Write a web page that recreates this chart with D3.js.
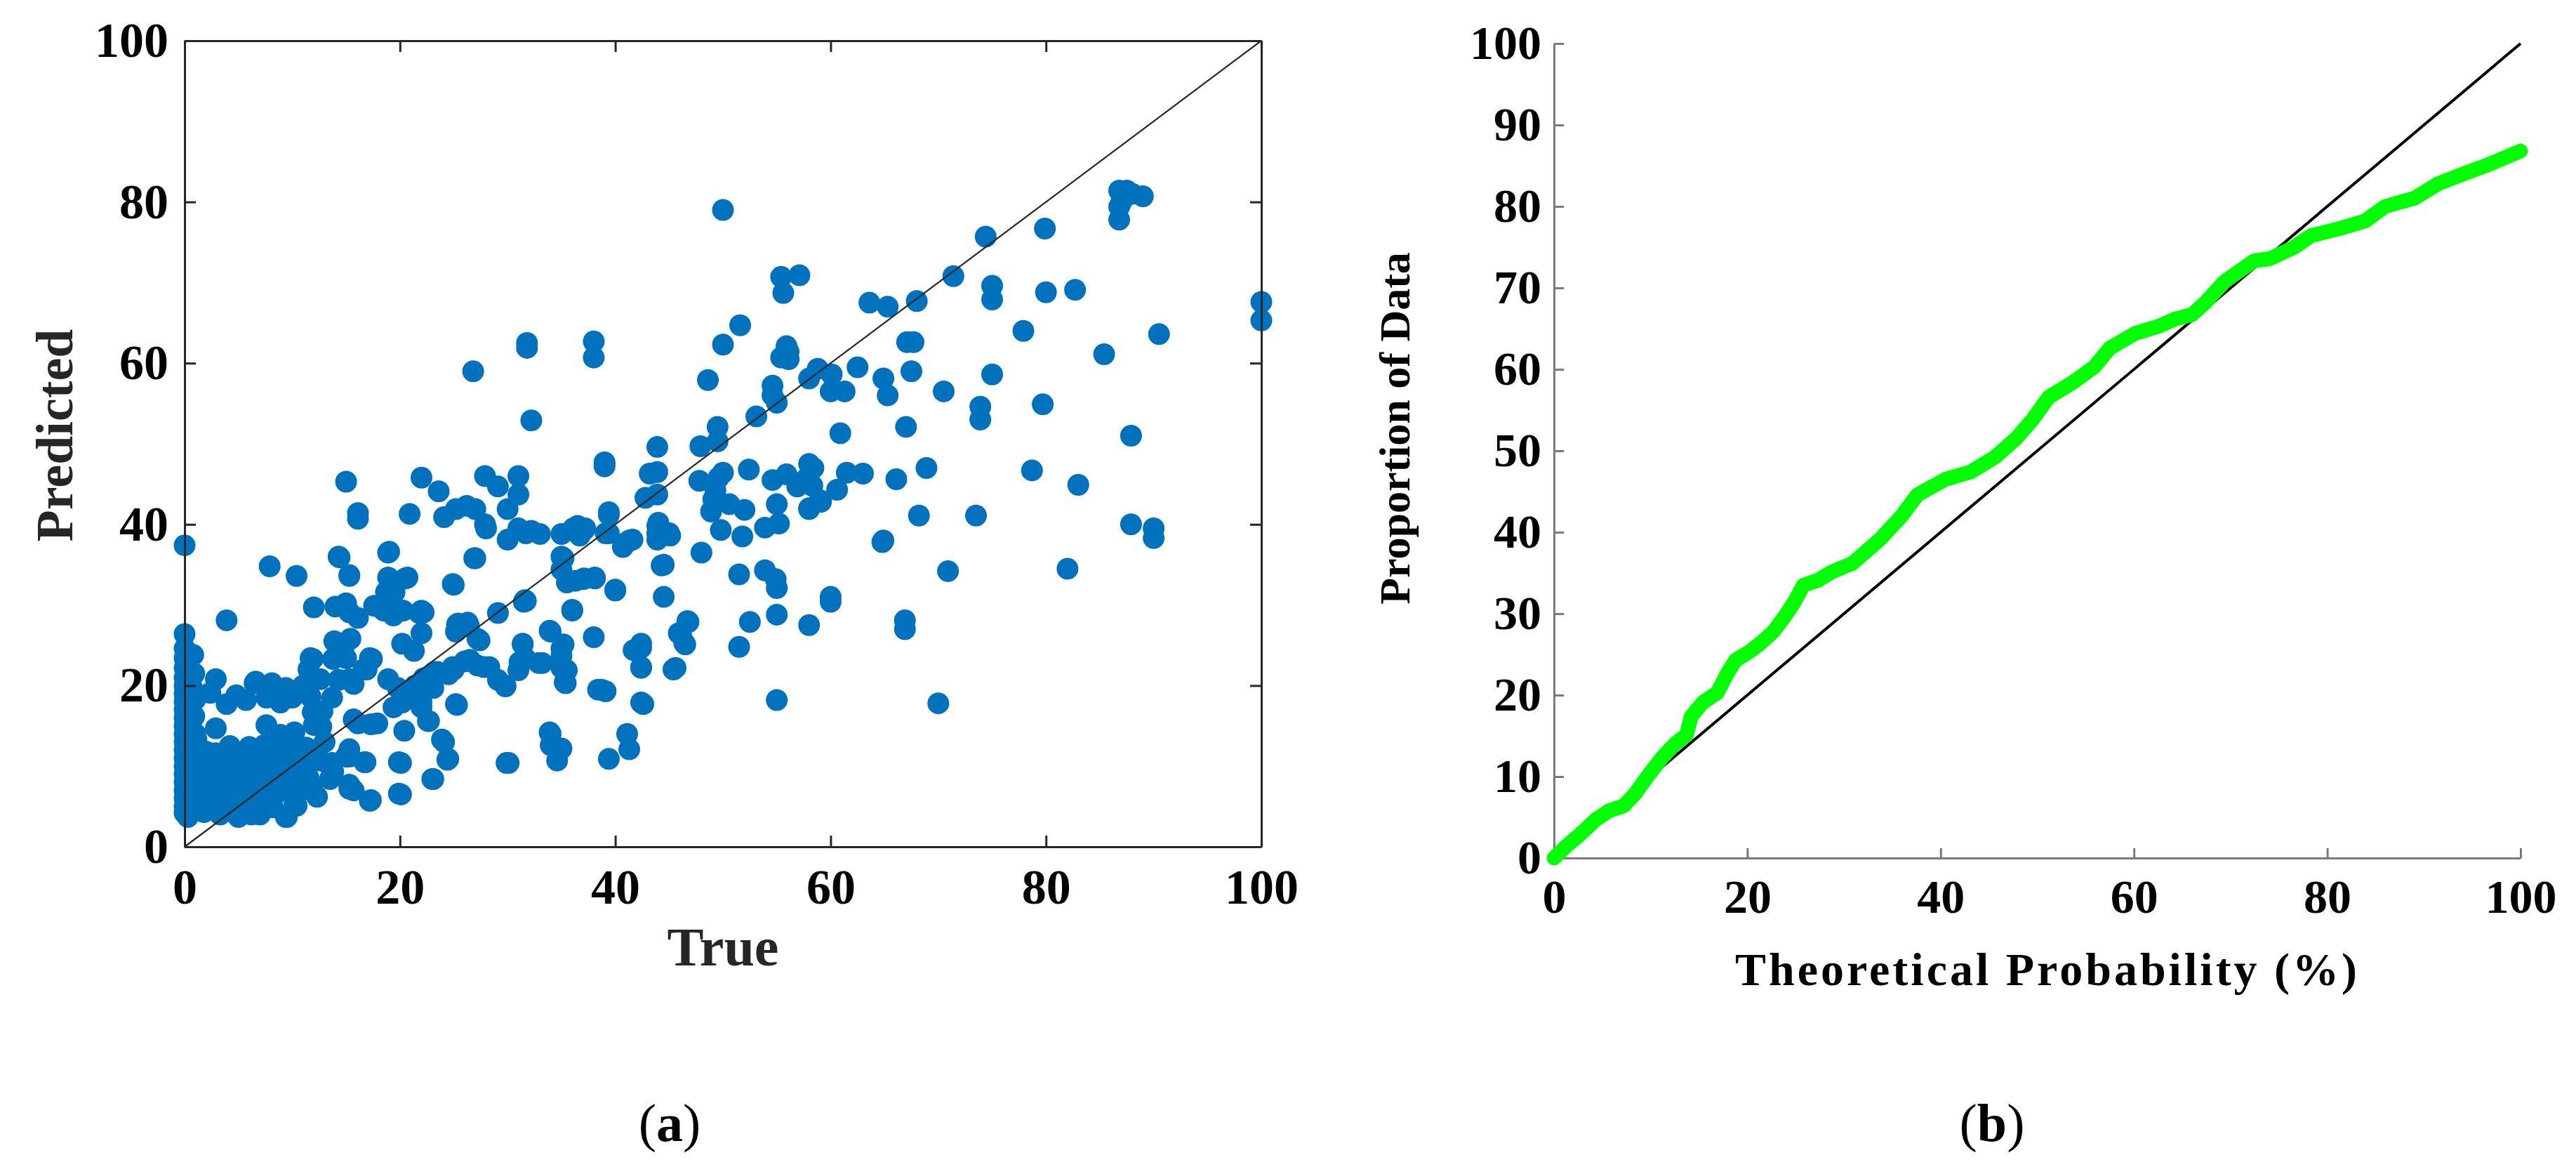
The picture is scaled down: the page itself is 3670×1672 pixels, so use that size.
<!DOCTYPE html>
<html>
<head>
<meta charset="utf-8">
<script src="https://cdn.jsdelivr.net/npm/d3@7"></script>
<style>
  body { margin: 0; background: #fff; }
  text { font-family: "Liberation Serif", "Times New Roman", serif; }
</style>
</head>
<body>
<svg id="fig" width="3670" height="1672"></svg>
<script>
// ---- data ----

// (a) scatter: [true, predicted]
var scatterPts = [
  // column at true = 0
  [0,37.4],[0,26.4],[0,24.6],[0,23.4],[0,22.2],[0,21],[0,20],[0,19],[0,18],[0,17],[0,16],[0,15],[0,14],[0,13],[0,12],[0,11],[0,10],[0,9],[0,8],[0,7],[0,6],[0,5],[0,4.2],[0.3,3.7],[0.7,19.7],[0.5,17.5],[0.6,15],[0.8,12.2],[0.5,10.5],[0.9,8],[0.4,6.5],[0.8,5],
  [0.8,23.8],[0.9,21.5],[1,18.3],[0.9,16.2],[1,14],[1.2,9.5],[1.4,7.2],[1.5,4.6],
  // dense corner
  [3.9,28.1],[2.9,20.8],[2.4,19.1],[3.9,17.7],[2.9,14.7],[4.8,18.8],[5.7,18.2],[6.5,20.3],[8.1,20.3],[7.6,18.5],[8.9,17.9],[9.4,19.7],[10,18.5],[7.6,15.1],[10.2,14.2],[8.9,13.9],[9.4,12.7],[8.7,11.6],[7.6,10.7],[6.5,10.1],[5,10.4],[3.9,10.1],[2.9,11.6],[2,11.8],[5.5,11.6],[6.8,11.6],[1.1,13.3],[1.1,11],[1.3,9.2],[2.9,8.4],[4.6,7.8],[6.1,8.1],[7.8,8.4],[1.3,6.6],[2.9,6.4],[4.6,5.5],[6.1,5.7],[7.6,6.4],[8.9,6.9],[10.7,6.9],[1.8,4.3],[3.3,4],[5,3.7],[7,4],[9.4,3.7],[10.2,5.3],[11.5,8.6],[13.5,8.4],[12.6,10.7],[13.7,10.4],[15.3,11.2],[16.8,10.5],[15.3,7.2],[17.2,5.7],[19.9,6.6],[19.9,10.5],[4,9],[5.5,6.5],[3.5,5.5],[2,7.5],[6.5,7],[8,9.5],[9.8,9.3],[2.2,9.8],[4.2,12.5],[1.6,10.3],
  [2.5,5.2],[3.2,7.2],[4.1,6.4],[5.2,8.9],[5.6,4.7],[6.6,9],[7.1,5.3],[8.2,4.9],[8.4,7.9],[9.1,10.1],[10.1,9.7],[10.6,11.3],[11.2,10.2],[3.4,11.2],[6,12.4],[7.4,12.6],[11.3,12.3],[12.2,12],[4.4,4.4],[6.2,4],[9.9,8.2],[11.8,7.5],[3.1,9.4],[12.3,6.2],
  // low-middle
  [7.9,34.8],[10.4,33.6],[14.3,36],[18.9,36.5],[26.9,35.8],[15.3,33.6],[18.9,33.4],[20.7,33.4],[24.9,32.6],[12,29.7],[14.9,30],[15.3,29.1],[16.1,28.4],[17.6,29.9],[18.7,31.6],[18.5,29.3],[19.4,28.7],[20.2,29.3],[22,29.3],[22,26.5],[20.2,25.2],[21.3,24.3],[25.4,27.7],[26.3,27.8],[27.2,25.8],[29.1,29],[31.6,30.6],[31.4,25.2],[31.1,22.9],[29.8,19.9],[29.1,20.7],[27.8,22.3],[26.5,23.2],[25,22],[23.5,21.7],[23.1,19.7],[22,17.3],[22.6,15.6],[25.2,17.7],[23.9,13.3],[24.4,10.8],[23.1,8.4],[29.9,10.4],[18.9,20.8],[19.8,19.7],[21.3,19.1],[20.2,17.9],[19.4,17.3],[17.2,23.4],[16.6,22],[15.3,20.8],[13.9,25.5],[15.4,25.8],[11.7,23.4],[11.5,22],[12.6,20.8],[13.7,18.5],[12.8,16.8],[12,15.1],[11.9,23.3],[11.7,18.6],[11.9,16.7],[12.7,14.9],[13,13],[13.4,10.2],[13.8,9.3],[14.2,25.1],[13.8,23.3],[17.3,5.8],[16.7,10.5],[15.7,15.8],[16.1,15.3],[15.3,12.1],[15,11.2],[15.3,7.7],[15.7,7],[17.9,15.3],[17.3,15.2],[20.1,6.5],[20.1,10.4],[20.4,14.4],[24.1,13],[24.5,10.9],[23,8.4],[22.7,15.6],[22,18],[25.3,17.6],[14.3,20.7],[15.7,20.2],[16.9,22],[17.4,23.3],[14.8,24.9],[15,23.4],[14,29.8],[15,30.2],[16.1,41.4],[16.1,40.7],[15,45.3],[9.6,11.6],[10,7.4],[10.4,5.1],[9.5,3.7],[6.6,20.5],[11,20],
  // middle
  [26.8,59],[31.8,62.5],[31.8,61.9],[38,62.7],[38,60.7],[32.2,52.9],[39,47.7],[39,47.2],[43.9,49.6],[43.2,46.3],[43.9,46.5],[42.8,43.3],[43.9,43.7],[43.9,38.9],[45.1,38.6],[43.9,38.1],[41,37.7],[41.6,38.1],[39.4,41.2],[39.4,38.9],[44.3,34.9],[44.5,31],[46.8,27.9],[46.1,26.5],[46.5,25.1],[45.4,22],[42.4,24.7],[42.4,22.3],[42.6,17.7],[41.1,14],[41.3,12.1],[39.4,10.9],[38.4,19.5],[39.1,19.3],[38,26],[40,31.8],[38.1,33.3],[37.1,33.3],[36.3,33],[35.2,35.8],[35,34.4],[36.1,39.5],[37.1,39.3],[36.7,38.6],[35,38.8],[33,38.8],[31.7,38.9],[31,39.5],[30,38.1],[31,43.7],[31,46],[30,41.9],[27.9,40],[28,39.5],[27.9,46],[29.1,44.7],[25.2,41.9],[24.1,40.9],[26.2,42.3],[27,41.9],[20.9,41.3],[22,45.8],[23.6,44.1],[14.4,35.9],[15.3,33.7],[19,36.6],[19,33.3],[20.5,33.3],[19.5,31.6],[19.2,30.1],[18,29.8],[20.3,29.3],[21.8,29],[22.2,29.1],[25,32.5],[27,35.8],[25.3,27.6],[26.4,27.4],[25.2,26.7],[27.4,25.6],[31.5,30.4],[31.4,25.1],[36,29.3],[34,26.7],[35.2,25.1],[35,23.7],[35.5,21.9],[35.4,20.3],[32.9,22.8],[31.7,23.3],[31,21.9],[29.8,20],[28.3,22.3],[27.2,22.5],[26,23],[24.9,22.3],[24.5,21.4],[23.2,21.7],[22.2,20.9],[21.4,20],[20.8,19.1],[30.1,10.4],[34,14],[34,12.6],[34.8,12.1],[34.6,10.7],[39,47.5],[32.2,39.2],[36.5,39.8],[37.2,39.5],[39.1,38.9],[39.4,41.5],[41.3,38],[40.7,37.2],[43.9,39.8],[45,38.9],[44.5,35],[40,31.9],[35,36],[35.5,32.8],[37,33.2],[38.1,33.4],[31.7,30.5],[33.9,26.8],[35,24.6],[33.2,22.8],[35,22.2],[35.3,20.4],[44,40.2],[42.4,25.2],[41.7,24.4],[42.4,22.2],[42.4,17.9],[38.7,19.5],[33.9,14.2],[35,12.2],[36,29.4],
  // upper middle
  [50,79],[47.8,45.4],[49.6,45.8],[50,46.4],[52.4,46.8],[49.3,44.2],[49.1,43.1],[48.9,41.6],[50.6,42.5],[52,41.8],[49.8,39.3],[51.8,38.5],[53.9,39.6],[55.2,40.1],[55,42.5],[58,42],[59.1,42.8],[60.6,44.3],[61.5,46.4],[63,46.3],[58,47.5],[54.6,45.5],[55.9,46.2],[57.2,45.1],[58.3,44.8],[64.8,37.8],[48,36.5],[51.5,33.8],[53.9,34.3],[54.9,33.2],[55,32.1],[52.5,27.9],[55,28.8],[58,27.5],[51.5,24.8],[46.7,28],[45.9,26.5],[46.4,25.3],[45.6,22.2],[55,18.2],[60,31],[60,30.4],[66.9,28.1],[66.9,27],[70,17.8],[49.5,52.1],[49.5,50.3],[47.9,49.7],[53.1,53.4],[60.9,51.3],[55.4,70.7],[57.1,70.9],[55.6,68.7],[51.6,64.7],[50,62.3],[48.6,57.9],[54.6,57.2],[54.6,56],[55,55.1],[55.4,60.7],[56.1,60.5],[56.1,61.4],[55.9,62.1],[58,58.1],[58.8,59.3],[60.1,58.6],[60,56.5],[61.3,56.5],[62.5,59.5],[64.9,58.1],[65.3,56],[67.5,59],[67.1,62.6],[67.7,62.6],[68,67.7],[63.6,67.5],[65.3,67],[67,52.1],[66.1,45.6],[68.9,47],[68.2,41.1],[64.9,38],[58.4,47],[56.9,44.7],[57.7,45.6],[59,43],[58,41.9],[70.9,34.2],[70.5,56.5],[71.4,70.8],
  // right side
  [74.4,75.7],[79.9,76.7],[86.8,81.4],[87.5,81.4],[87,80],[86.8,79.4],[86.8,77.8],[89,80.7],[88,81],[75,69.6],[75,67.9],[80,68.8],[82.7,69.1],[100,67.6],[100,65.3],[90.5,63.6],[77.9,64],[85.4,61.1],[75,58.6],[73.9,54.6],[73.9,53],[79.7,54.9],[87.9,51],[78.7,46.7],[83,44.9],[73.5,41.1],[87.9,40],[90,39.5],[90,38.3],[82,34.5]
];

// (b) P-P curve
var probX = [0,1.4,2.8,4.3,5.7,7.2,8.4,9.6,11.1,12.5,13.7,14.2,15.4,16.9,17.9,18.8,20.2,21.5,22.7,23.9,24.9,25.8,27.3,28.7,30.9,33.7,35.9,37.6,40.5,43.1,45.6,47.8,49.5,51.2,53.7,55.9,57.5,60.1,62.6,64.3,66,67.3,69.4,72.4,74.1,76.6,78.3,81.3,83.9,86,89,91.5,94.1,96.6,100];
var probY = [0,1.6,3,4.7,5.8,6.4,7.9,9.9,12.2,14,15.1,17.4,19.1,20.3,22.6,24.3,25.3,26.5,27.8,29.7,31.5,33.5,34.1,35.1,36.2,39.1,41.9,44.6,46.5,47.4,49.2,51.5,53.8,56.6,58.4,60.3,62.6,64.4,65.3,66.2,66.7,68.1,70.8,73.3,73.6,75,76.4,77.3,78.2,80,81,82.8,84,85.1,86.8];

var ticksA = [0, 20, 40, 60, 80, 100];
var ticksBx = [0, 20, 40, 60, 80, 100];
var ticksBy = [0, 10, 20, 30, 40, 50, 60, 70, 80, 90, 100];

var svg = d3.select("#fig");
svg.append("rect").attr("width", 3670).attr("height", 1672).attr("fill", "#fff");

// ---------- panel (a) ----------
var xa = d3.scaleLinear().domain([0, 100]).range([263, 1797]);
var ya = d3.scaleLinear().domain([0, 100]).range([1206, 58]);
var axCol = "#262626";

var ga = svg.append("g");

ga.selectAll("circle.pt")
  .data(scatterPts)
  .enter().append("circle")
  .attr("class", "pt")
  .attr("cx", function(d){ return xa(d[0]); })
  .attr("cy", function(d){ return ya(d[1]); })
  .attr("r", 15.5)
  .attr("fill", "#0072BD");

// 1:1 line, drawn above the points
ga.append("line")
  .attr("x1", xa(0)).attr("y1", ya(0))
  .attr("x2", xa(100)).attr("y2", ya(100))
  .attr("stroke", axCol).attr("stroke-width", 2.2);

function styleAxis(g, col, fs){
  g.select(".domain").attr("stroke", col).attr("stroke-width", 3);
  g.selectAll(".tick line").attr("stroke", col).attr("stroke-width", 3);
  g.selectAll(".tick text")
    .attr("fill", "#000")
    .style("font-family", '"Liberation Serif", serif')
    .style("font-weight", "bold")
    .style("font-size", fs + "px");
}

ga.append("g").attr("transform", "translate(0," + ya(0) + ")")
  .call(d3.axisBottom(xa).tickValues(ticksA).tickSizeInner(-16).tickSizeOuter(0).tickPadding(31))
  .call(styleAxis, axCol, 70);
ga.append("g").attr("transform", "translate(" + xa(0) + ",0)")
  .call(d3.axisLeft(ya).tickValues(ticksA).tickSizeInner(-16).tickSizeOuter(0).tickPadding(23))
  .call(styleAxis, axCol, 70);
ga.append("g").attr("transform", "translate(0," + ya(100) + ")")
  .call(d3.axisTop(xa).tickValues(ticksA).tickSizeInner(-16).tickSizeOuter(0).tickFormat(""))
  .call(styleAxis, axCol, 70);
ga.append("g").attr("transform", "translate(" + xa(100) + ",0)")
  .call(d3.axisRight(ya).tickValues(ticksA).tickSizeInner(-16).tickSizeOuter(0).tickFormat(""))
  .call(styleAxis, axCol, 70);

ga.append("text")
  .attr("x", 1030).attr("y", 1375)
  .attr("text-anchor", "middle")
  .style("font-size", "78px").style("font-weight", "bold")
  .attr("fill", "#262626")
  .text("True");

ga.append("text")
  .attr("transform", "translate(103,620) rotate(-90)")
  .attr("text-anchor", "middle")
  .style("font-size", "74px").style("font-weight", "bold")
  .attr("fill", "#262626")
  .text("Predicted");

// ---------- panel (b) ----------
var xb = d3.scaleLinear().domain([0, 100]).range([2214, 3591]);
var yb = d3.scaleLinear().domain([0, 100]).range([1222, 62]);
var axColB = "#7a7a7a";

var gb = svg.append("g");

gb.append("g").attr("transform", "translate(0," + yb(0) + ")")
  .call(d3.axisBottom(xb).tickValues(ticksBx).tickSizeInner(-14).tickSizeOuter(0).tickPadding(30))
  .call(styleAxis, axColB, 68);
gb.append("g").attr("transform", "translate(" + xb(0) + ",0)")
  .call(d3.axisLeft(yb).tickValues(ticksBy).tickSizeInner(-14).tickSizeOuter(0).tickPadding(18))
  .call(styleAxis, axColB, 68);

gb.append("line")
  .attr("x1", xb(0)).attr("y1", yb(0))
  .attr("x2", xb(100)).attr("y2", yb(100))
  .attr("stroke", "#000").attr("stroke-width", 4);

var ppLine = d3.line()
  .x(function(d, i){ return xb(probX[i]); })
  .y(function(d){ return yb(d); });

gb.append("path")
  .attr("d", ppLine(probY))
  .attr("fill", "none")
  .attr("stroke", "#00ff00")
  .attr("stroke-width", 21)
  .attr("stroke-linejoin", "round")
  .attr("stroke-linecap", "round");

gb.append("text")
  .attr("x", 2917).attr("y", 1403)
  .attr("text-anchor", "middle")
  .style("font-size", "66px").style("font-weight", "bold")
  .style("letter-spacing", "4px")
  .attr("fill", "#000")
  .text("Theoretical Probability (%)");

gb.append("text")
  .attr("transform", "translate(2008,610) rotate(-90)")
  .attr("text-anchor", "middle")
  .style("font-size", "62px").style("font-weight", "bold")
  .attr("fill", "#000")
  .text("Proportion of Data");

// ---------- captions ----------
[["a", 954], ["b", 2838]].forEach(function(c){
  var t = svg.append("text")
    .attr("x", c[1]).attr("y", 1625)
    .attr("text-anchor", "middle")
    .style("font-size", "76px")
    .attr("fill", "#000");
  t.append("tspan").text("(");
  t.append("tspan").style("font-weight", "bold").text(c[0]);
  t.append("tspan").text(")");
});
</script>
</body>
</html>
